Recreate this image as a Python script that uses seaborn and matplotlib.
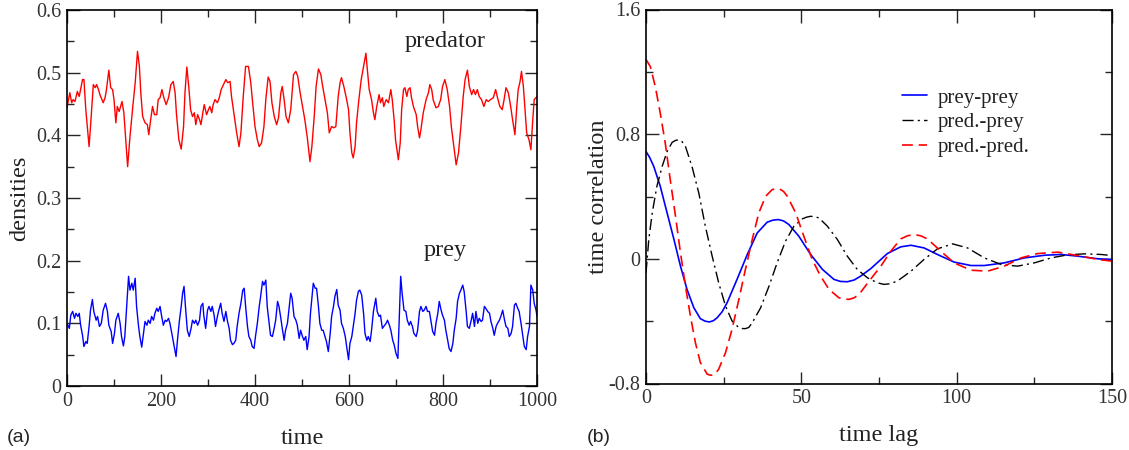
import matplotlib
matplotlib.use("Agg")
import matplotlib.pyplot as plt
import seaborn as sns

# ---- data ----
# (a) densities vs time
pred_t = [0, 6, 10, 13, 17, 22, 26, 33, 36, 40,
          47, 50, 56, 60, 63, 67, 70, 77, 81, 84,
          89, 93, 97, 100, 104, 107, 111, 117, 121, 124,
          129, 134, 140, 145, 150, 154, 157, 161, 166, 171,
          174, 178, 182, 186, 191, 194, 198, 202, 206, 211,
          216, 221, 226, 230, 233, 238, 243, 248, 251, 255,
          259, 263, 267, 271, 274, 278, 282, 285, 289, 292,
          297, 301, 304, 308, 311, 315, 320, 324, 328, 333,
          338, 342, 347, 350, 355, 361, 366, 370, 375, 380,
          386, 391, 395, 400, 405, 409, 414, 419, 423, 428,
          432, 436, 441, 446, 450, 455, 458, 462, 466, 471,
          476, 482, 487, 491, 496, 501, 506, 511, 517, 521,
          526, 530, 535, 540, 544, 549, 554, 558, 563, 568,
          572, 577, 581, 584, 589, 595, 599, 602, 606, 609,
          613, 616, 621, 626, 631, 636, 639, 643, 648, 652,
          655, 659, 664, 667, 671, 674, 679, 684, 689, 692,
          696, 699, 705, 709, 712, 716, 719, 723, 726, 730,
          733, 737, 743, 746, 750, 753, 758, 764, 769, 772,
          776, 779, 785, 790, 795, 799, 804, 809, 814, 818,
          823, 828, 833, 838, 843, 847, 852, 856, 861, 865,
          869, 873, 877, 882, 887, 892, 896, 901, 907, 912,
          916, 921, 926, 930, 934, 939, 944, 948, 953, 957,
          960, 964, 967, 971, 974, 978, 983, 987, 991, 994,
          1000]
predator = [0.444, 0.468, 0.452, 0.457, 0.454, 0.470, 0.462, 0.489, 0.489, 0.441,
            0.382, 0.414, 0.481, 0.476, 0.481, 0.473, 0.465, 0.452, 0.460, 0.473,
            0.504, 0.476, 0.473, 0.457, 0.420, 0.446, 0.438, 0.454, 0.436, 0.404,
            0.350, 0.398, 0.446, 0.483, 0.534, 0.510, 0.468, 0.430, 0.420, 0.417,
            0.401, 0.425, 0.446, 0.433, 0.433, 0.457, 0.460, 0.473, 0.460, 0.449,
            0.460, 0.481, 0.486, 0.468, 0.433, 0.393, 0.378, 0.414, 0.468, 0.509,
            0.478, 0.441, 0.430, 0.436, 0.417, 0.433, 0.425, 0.417, 0.436, 0.449,
            0.433, 0.441, 0.446, 0.436, 0.449, 0.457, 0.452, 0.460, 0.473, 0.481,
            0.489, 0.484, 0.486, 0.462, 0.436, 0.404, 0.382, 0.404, 0.462, 0.510,
            0.510, 0.484, 0.452, 0.414, 0.393, 0.382, 0.388, 0.414, 0.457, 0.493,
            0.486, 0.452, 0.430, 0.417, 0.428, 0.468, 0.478, 0.457, 0.430, 0.420,
            0.441, 0.497, 0.502, 0.494, 0.468, 0.446, 0.425, 0.398, 0.358, 0.382,
            0.430, 0.478, 0.506, 0.497, 0.478, 0.457, 0.436, 0.404, 0.414, 0.412,
            0.414, 0.462, 0.484, 0.492, 0.478, 0.457, 0.441, 0.404, 0.372, 0.364,
            0.382, 0.420, 0.457, 0.489, 0.510, 0.531, 0.505, 0.473, 0.457, 0.436,
            0.425, 0.446, 0.465, 0.452, 0.460, 0.446, 0.457, 0.452, 0.473, 0.457,
            0.425, 0.393, 0.361, 0.388, 0.441, 0.473, 0.476, 0.462, 0.473, 0.476,
            0.460, 0.446, 0.433, 0.414, 0.396, 0.409, 0.436, 0.457, 0.468, 0.481,
            0.473, 0.457, 0.444, 0.446, 0.457, 0.478, 0.489, 0.473, 0.446, 0.412,
            0.382, 0.353, 0.372, 0.414, 0.462, 0.489, 0.504, 0.478, 0.465, 0.473,
            0.465, 0.473, 0.462, 0.457, 0.446, 0.457, 0.454, 0.457, 0.460, 0.473,
            0.460, 0.446, 0.441, 0.457, 0.476, 0.468, 0.446, 0.425, 0.401, 0.446,
            0.473, 0.486, 0.502, 0.478, 0.446, 0.404, 0.393, 0.377, 0.425, 0.457,
            0.462]

prey_t = [0, 5, 8, 12, 16, 19, 23, 26, 29, 33,
          36, 40, 43, 47, 50, 54, 57, 62, 65, 69,
          73, 77, 82, 86, 89, 94, 97, 101, 104, 109,
          113, 116, 120, 123, 127, 131, 134, 138, 141, 145,
          148, 152, 155, 159, 162, 166, 170, 173, 177, 180,
          184, 187, 191, 194, 198, 201, 205, 209, 212, 216,
          219, 223, 228, 232, 235, 239, 243, 246, 249, 252,
          256, 260, 264, 267, 271, 274, 278, 282, 285, 289,
          291, 295, 299, 302, 306, 309, 313, 316, 320, 323,
          327, 330, 334, 338, 341, 345, 348, 352, 355, 359,
          362, 366, 370, 374, 377, 380, 384, 387, 391, 394,
          398, 401, 405, 409, 412, 416, 419, 423, 426, 430,
          433, 437, 440, 444, 448, 451, 455, 458, 462, 465,
          469, 472, 476, 479, 483, 487, 490, 494, 497, 501,
          504, 508, 511, 515, 518, 522, 524, 528, 531, 535,
          538, 542, 545, 549, 552, 556, 560, 563, 567, 570,
          574, 577, 581, 584, 588, 592, 595, 599, 602, 606,
          609, 613, 616, 620, 623, 627, 631, 634, 638, 641,
          645, 648, 652, 657, 660, 664, 667, 671, 674, 679,
          682, 686, 689, 693, 696, 700, 704, 707, 710, 713,
          717, 721, 724, 728, 731, 735, 738, 743, 746, 750,
          753, 757, 760, 764, 767, 771, 774, 778, 782, 785,
          789, 792, 796, 799, 803, 806, 810, 813, 817, 821,
          824, 828, 831, 835, 838, 842, 845, 849, 852, 856,
          860, 863, 867, 870, 874, 877, 881, 884, 888, 891,
          895, 899, 902, 906, 909, 913, 916, 920, 923, 927,
          931, 934, 938, 941, 945, 948, 952, 955, 959, 962,
          966, 970, 973, 977, 980, 984, 987, 991, 994, 998,
          1000]
prey = [0.100, 0.092, 0.113, 0.119, 0.108, 0.116, 0.111, 0.116, 0.097, 0.081,
        0.063, 0.071, 0.068, 0.095, 0.121, 0.138, 0.119, 0.105, 0.111, 0.095,
        0.100, 0.121, 0.132, 0.119, 0.097, 0.087, 0.068, 0.084, 0.105, 0.116,
        0.100, 0.079, 0.064, 0.079, 0.127, 0.175, 0.153, 0.164, 0.153, 0.172,
        0.127, 0.097, 0.079, 0.062, 0.079, 0.103, 0.097, 0.105, 0.100, 0.111,
        0.105, 0.116, 0.124, 0.119, 0.127, 0.113, 0.097, 0.105, 0.103, 0.108,
        0.100, 0.084, 0.063, 0.047, 0.073, 0.103, 0.127, 0.148, 0.159, 0.127,
        0.089, 0.079, 0.092, 0.105, 0.100, 0.105, 0.097, 0.105, 0.127, 0.132,
        0.113, 0.092, 0.121, 0.127, 0.119, 0.127, 0.113, 0.095, 0.111, 0.121,
        0.132, 0.116, 0.103, 0.119, 0.105, 0.092, 0.073, 0.066, 0.068, 0.073,
        0.095, 0.116, 0.132, 0.153, 0.156, 0.127, 0.095, 0.079, 0.073, 0.063,
        0.060, 0.079, 0.100, 0.127, 0.143, 0.167, 0.161, 0.169, 0.127, 0.100,
        0.081, 0.079, 0.089, 0.105, 0.135, 0.127, 0.108, 0.092, 0.073, 0.089,
        0.100, 0.121, 0.148, 0.140, 0.111, 0.105, 0.097, 0.076, 0.089, 0.079,
        0.073, 0.079, 0.058, 0.079, 0.116, 0.148, 0.164, 0.156, 0.156, 0.127,
        0.100, 0.089, 0.089, 0.079, 0.071, 0.055, 0.084, 0.111, 0.127, 0.143,
        0.154, 0.129, 0.121, 0.100, 0.092, 0.079, 0.063, 0.042, 0.068, 0.079,
        0.095, 0.116, 0.137, 0.151, 0.153, 0.145, 0.116, 0.084, 0.073, 0.079,
        0.071, 0.089, 0.119, 0.140, 0.119, 0.111, 0.113, 0.092, 0.095, 0.100,
        0.105, 0.097, 0.089, 0.073, 0.066, 0.052, 0.044, 0.111, 0.175, 0.148,
        0.121, 0.119, 0.105, 0.097, 0.103, 0.095, 0.084, 0.079, 0.089, 0.119,
        0.127, 0.119, 0.121, 0.127, 0.119, 0.119, 0.105, 0.087, 0.081, 0.100,
        0.116, 0.135, 0.121, 0.113, 0.105, 0.089, 0.073, 0.060, 0.055, 0.068,
        0.089, 0.108, 0.135, 0.148, 0.153, 0.161, 0.151, 0.121, 0.095, 0.092,
        0.105, 0.116, 0.095, 0.119, 0.100, 0.108, 0.103, 0.105, 0.127, 0.124,
        0.119, 0.116, 0.103, 0.092, 0.081, 0.095, 0.100, 0.105, 0.111, 0.121,
        0.105, 0.095, 0.092, 0.079, 0.084, 0.095, 0.129, 0.132, 0.124, 0.119,
        0.100, 0.079, 0.063, 0.058, 0.079, 0.095, 0.161, 0.153, 0.132, 0.121,
        0.111]

# (b) time correlations vs time lag
pp_lag = [0, 1.2, 2.5, 4.6, 6.8, 9.0, 11.1, 13.2, 15.4, 17.5,
          19.0, 20.4, 21.7, 22.9, 24.5, 26.1, 29.3, 32.6, 35.8, 39.0,
          40.8, 42.6, 44.3, 46.0, 49.2, 53.0, 56.8, 60.5, 62.6, 64.8,
          67.0, 69.1, 72.4, 75.0, 77.7, 82.0, 85.3, 89.5, 93.8, 99.2,
          104.6, 108.9, 115.3, 121.8, 128.3, 133.6, 139.0, 145.5, 150]
prey_prey = [0.689, 0.650, 0.593, 0.465, 0.294, 0.124, -0.047, -0.196, -0.314, -0.384,
             -0.400, -0.405, -0.397, -0.378, -0.340, -0.282, -0.132, 0.028, 0.166, 0.235,
             0.248, 0.252, 0.243, 0.220, 0.145, 0.028, -0.068, -0.132, -0.145, -0.147,
             -0.136, -0.111, -0.062, -0.015, 0.034, 0.077, 0.087, 0.070, 0.028, -0.021,
             -0.043, -0.043, -0.026, 0.006, 0.023, 0.028, 0.017, 0.0, -0.004]

xp_lag = [0, 0.9, 2.0, 3.5, 5.2, 6.8, 8.4, 9.5, 10.5, 11.6,
          12.7, 14.8, 17.0, 19.1, 21.3, 23.4, 25.6, 27.7, 29.9, 30.9,
          32.0, 33.1, 34.2, 36.9, 39.6, 42.2, 44.9, 47.6, 50.3, 51.6,
          53.0, 54.4, 55.7, 58.4, 61.6, 64.8, 68.0, 71.3, 74.5, 76.6,
          78.5, 80.9, 85.3, 89.5, 93.8, 98.7, 103.5, 108.9, 114.3, 119.6,
          125.0, 130.4, 135.8, 141.2, 146.5, 150]
pred_prey = [-0.090, 0.124, 0.294, 0.465, 0.593, 0.689, 0.747, 0.760, 0.764, 0.752,
             0.721, 0.593, 0.422, 0.209, 0.017, -0.154, -0.303, -0.399, -0.442, -0.447,
             -0.448, -0.440, -0.410, -0.314, -0.175, -0.026, 0.113, 0.209, 0.256, 0.267,
             0.273, 0.270, 0.262, 0.209, 0.124, 0.017, -0.068, -0.122, -0.154, -0.164,
             -0.160, -0.143, -0.079, -0.004, 0.064, 0.096, 0.070, 0.006, -0.036, -0.047,
             -0.026, 0.006, 0.026, 0.032, 0.028, 0.021]

dd_lag = [0, 1.4, 3.0, 4.6, 6.2, 7.8, 9.5, 11.1, 12.7, 14.3,
          15.9, 17.5, 19.7, 20.6, 21.6, 22.5, 23.4, 25.6, 27.7, 29.9,
          32.0, 34.2, 36.3, 38.5, 40.6, 41.8, 43.0, 44.3, 45.5, 48.2,
          50.8, 53.5, 56.2, 58.9, 62.1, 63.8, 65.4, 67.0, 68.6, 71.8,
          75.6, 78.8, 82.0, 84.2, 86.3, 88.4, 90.6, 94.9, 99.2, 104.6,
          110.0, 115.3, 120.7, 126.1, 132.6, 139.0, 145.5, 150]
pred_pred = [1.280, 1.233, 1.105, 0.934, 0.742, 0.508, 0.273, 0.038, -0.175, -0.367,
             -0.538, -0.666, -0.740, -0.746, -0.747, -0.732, -0.708, -0.602, -0.452, -0.260,
             -0.068, 0.124, 0.294, 0.401, 0.444, 0.450, 0.448, 0.432, 0.401, 0.294,
             0.145, -0.004, -0.111, -0.196, -0.250, -0.258, -0.260, -0.250, -0.228, -0.143,
             -0.047, 0.049, 0.128, 0.148, 0.156, 0.148, 0.128, 0.049, -0.026, -0.073,
             -0.079, -0.047, 0.006, 0.034, 0.043, 0.021, -0.004, -0.015]

# ---- style ----
sns.set_style("ticks")
plt.rcParams['font.family'] = ['Liberation Serif', 'DejaVu Serif']
plt.rcParams['axes.unicode_minus'] = False
plt.rcParams['axes.linewidth'] = 1.2
plt.rcParams['axes.edgecolor'] = 'black'

fig = plt.figure(figsize=(11.29, 4.5), dpi=100)
ax1 = fig.add_axes([67 / 1129, 64 / 450, 470 / 1129, 376 / 450])
ax2 = fig.add_axes([646 / 1129, 66.5 / 450, 466 / 1129, 374 / 450])

# panel (a)
sns.lineplot(x=pred_t, y=predator, ax=ax1, color='#ff0000', lw=1.0, sort=False)
sns.lineplot(x=prey_t, y=prey, ax=ax1, color='#0000ff', lw=1.0, sort=False)
ax1.set_xlim(0, 1000)
ax1.set_ylim(0, 0.6)
ax1.set_xticks(range(0, 1001, 200))
ax1.set_xticks(range(100, 1000, 200), minor=True)
ax1.set_yticks([0, 0.1, 0.2, 0.3, 0.4, 0.5, 0.6])
ax1.set_yticks([0.05, 0.15, 0.25, 0.35, 0.45, 0.55], minor=True)
ax1.set_yticklabels(['0', '0.1', '0.2', '0.3', '0.4', '0.5', '0.6'])
ax1.text(805, 0.55, 'predator', fontsize=17.5, ha='center', va='center', color='#222222')
ax1.text(805, 0.217, 'prey', fontsize=17.5, ha='center', va='center', color='#222222')
ax1.set_xlabel('time', fontsize=17.5, color='#222222')
ax1.set_ylabel('densities', fontsize=17.5, color='#222222')
ax1.xaxis.set_label_coords(0.5, -0.112)
ax1.yaxis.set_label_coords(-0.079, 0.5)

# panel (b)
sns.lineplot(x=pp_lag, y=prey_prey, ax=ax2, color='#0000ff', lw=1.2, label='prey-prey')
sns.lineplot(x=xp_lag, y=pred_prey, ax=ax2, color='black', lw=1.0, label='pred.-prey')
ax2.lines[-1].set_dashes([8, 3, 1.5, 3])
sns.lineplot(x=dd_lag, y=pred_pred, ax=ax2, color='#ff0000', lw=1.2, label='pred.-pred.')
ax2.lines[-1].set_dashes([6.5, 3.5])
ax2.set_xlim(0, 150)
ax2.set_ylim(-0.8, 1.6)
ax2.set_xticks([0, 50, 100, 150])
ax2.set_xticks([25, 75, 125], minor=True)
ax2.set_yticks([-0.8, 0, 0.8, 1.6])
ax2.set_yticks([-0.4, 0.4, 1.2], minor=True)
ax2.set_yticklabels(['-0.8', '0', '0.8', '1.6'])
ax2.set_xlabel('time lag', fontsize=17.5, color='#222222')
ax2.set_ylabel('time correlation', fontsize=17.5, color='#222222')
ax2.xaxis.set_label_coords(0.5, -0.112)
ax2.yaxis.set_label_coords(-0.079, 0.5)
leg = ax2.legend(loc='upper left', bbox_to_anchor=(0.549, 0.79), frameon=False,
                 fontsize=15, handlelength=1.2, handletextpad=0.5, labelspacing=0.25,
                 borderpad=0, borderaxespad=0)
for t in leg.get_texts():
    t.set_color('#222222')

for ax in (ax1, ax2):
    ax.tick_params(which='both', direction='in', top=True, right=True,
                   labelsize=14.5, labelcolor='#333333', width=1.0)
    ax.tick_params(which='major', length=9, pad=4)
    ax.tick_params(which='minor', length=5)
    for s in ax.spines.values():
        s.set_visible(True)
        s.set_linewidth(1.2)

fig.text(7 / 1129, 1 - 437 / 450, '(a)', fontsize=14, family='Liberation Sans', va='center')
fig.text(587 / 1129, 1 - 437 / 450, '(b)', fontsize=14, family='Liberation Sans', va='center')

plt.savefig('out.png', dpi=100)
